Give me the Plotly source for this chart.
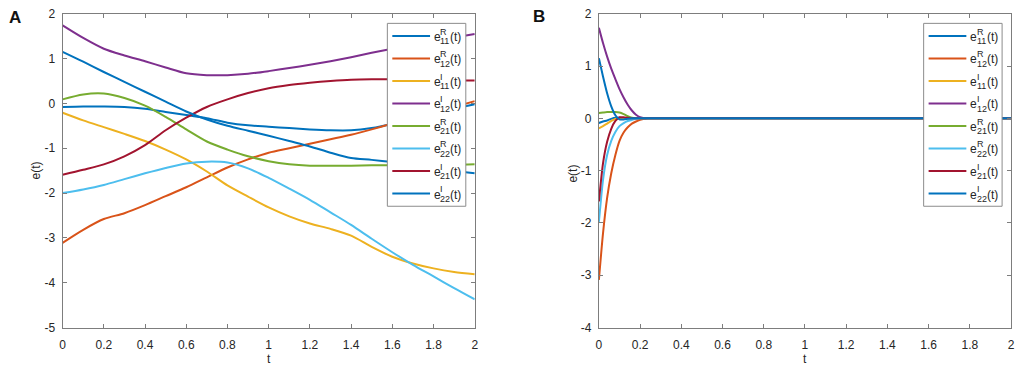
import plotly.graph_objects as go

W, H = 1021, 374

# ---------------- data: panel A ----------------
t_a = [0.0, 0.1, 0.2, 0.3, 0.4, 0.5, 0.6, 0.7, 0.8, 0.9, 1.0,
       1.1, 1.2, 1.3, 1.4, 1.5, 1.6, 1.7, 1.8, 1.9, 2.0]
a_e11R = [-0.08, -0.07, -0.07, -0.08, -0.12, -0.19, -0.26, -0.33, -0.43, -0.49, -0.52,
          -0.55, -0.58, -0.60, -0.60, -0.55, -0.46, -0.35, -0.24, -0.12, -0.02]
a_e12R = [-3.11, -2.82, -2.58, -2.45, -2.27, -2.07, -1.87, -1.65, -1.43, -1.25, -1.10,
          -1.00, -0.90, -0.80, -0.70, -0.58, -0.45, -0.33, -0.21, -0.08, 0.05]
a_e11I = [-0.21, -0.38, -0.53, -0.68, -0.84, -1.03, -1.25, -1.52, -1.83, -2.08, -2.32,
          -2.52, -2.68, -2.80, -2.95, -3.20, -3.42, -3.57, -3.68, -3.76, -3.81]
a_e12I = [1.74, 1.46, 1.22, 1.07, 0.94, 0.80, 0.67, 0.63, 0.63, 0.66, 0.72,
          0.79, 0.86, 0.94, 1.03, 1.13, 1.22, 1.30, 1.39, 1.47, 1.55]
a_e21R = [0.09, 0.20, 0.22, 0.12, -0.05, -0.30, -0.58, -0.85, -1.03, -1.18, -1.29,
          -1.36, -1.39, -1.39, -1.39, -1.38, -1.38, -1.38, -1.37, -1.37, -1.36]
a_e22R = [-2.00, -1.92, -1.82, -1.69, -1.56, -1.44, -1.34, -1.30, -1.32, -1.45, -1.66,
          -1.90, -2.15, -2.43, -2.71, -3.02, -3.32, -3.60, -3.86, -4.12, -4.37]
a_e21I = [-1.59, -1.48, -1.36, -1.18, -0.93, -0.60, -0.32, -0.08, 0.09, 0.23, 0.34,
          0.41, 0.46, 0.50, 0.53, 0.54, 0.54, 0.53, 0.52, 0.51, 0.51]
a_e22I = [1.15, 0.93, 0.70, 0.48, 0.26, 0.04, -0.18, -0.36, -0.50, -0.61, -0.72,
          -0.84, -0.96, -1.10, -1.22, -1.26, -1.31, -1.37, -1.43, -1.50, -1.56]

# ---------------- data: panel B ----------------
t_b = [0.0, 0.02, 0.04, 0.06, 0.08, 0.10, 0.12, 0.14, 0.16, 0.18, 0.20, 0.22, 0.24, 2.0]
b_e11R = [-0.09, -0.06, -0.04, -0.01, 0.01, 0.01, 0.0, 0.0, 0.0, 0.0, 0.0, 0.0, 0.0, 0.0]
b_e12R = [-3.09, -2.20, -1.52, -1.05, -0.70, -0.43, -0.27, -0.17, -0.10, -0.06, -0.03, -0.01, 0.0, 0.0]
b_e11I = [-0.19, -0.15, -0.10, -0.05, -0.01, 0.0, 0.0, 0.0, 0.0, 0.0, 0.0, 0.0, 0.0, 0.0]
b_e12I = [1.73, 1.44, 1.18, 0.95, 0.75, 0.56, 0.40, 0.26, 0.15, 0.07, 0.02, 0.0, 0.0, 0.0]
b_e21R = [0.10, 0.11, 0.12, 0.12, 0.12, 0.11, 0.08, 0.04, 0.01, 0.0, 0.0, 0.0, 0.0, 0.0]
b_e22R = [-1.98, -1.18, -0.70, -0.43, -0.26, -0.15, -0.09, -0.05, -0.03, -0.01, 0.0, 0.0, 0.0, 0.0]
b_e21I = [-1.59, -0.86, -0.45, -0.20, -0.05, 0.02, 0.02, 0.01, 0.0, 0.0, 0.0, 0.0, 0.0, 0.0]
b_e22I = [1.15, 0.80, 0.48, 0.23, 0.06, -0.02, -0.02, -0.01, 0.0, 0.0, 0.0, 0.0, 0.0, 0.0]

series_a = [a_e11R, a_e12R, a_e11I, a_e12I, a_e21R, a_e22R, a_e21I, a_e22I]
series_b = [b_e11R, b_e12R, b_e11I, b_e12I, b_e21R, b_e22R, b_e21I, b_e22I]

sup_labels = ["R", "R", "I", "I", "R", "R", "I", "I"]
sub_labels = ["11", "12", "11", "12", "21", "22", "21", "22"]
colors = ["#0072BD", "#D95319", "#EDB120", "#7E2F8E", "#77AC30", "#4DBEEE", "#A2142F", "#0072BD"]

x_tickvals = [0, 0.2, 0.4, 0.6, 0.8, 1.0, 1.2, 1.4, 1.6, 1.8, 2.0]
x_ticktext = ["0", "0.2", "0.4", "0.6", "0.8", "1", "1.2", "1.4", "1.6", "1.8", "2"]
ya_tickvals = [-5, -4, -3, -2, -1, 0, 1, 2]
ya_ticktext = ["-5", "-4", "-3", "-2", "-1", "0", "1", "2"]
yb_tickvals = [-4, -3, -2, -1, 0, 1, 2]
yb_ticktext = ["-4", "-3", "-2", "-1", "0", "1", "2"]

FONT = "Liberation Sans, Arial, sans-serif"
AXC = "#7d7d7d"
TXT = "#262626"

fig = go.Figure()
for i in range(8):
    name = f"e{sub_labels[i]}{sup_labels[i]}"
    fig.add_trace(go.Scatter(x=t_a, y=series_a[i], mode="lines", name=name,
                             line=dict(color=colors[i], width=2, shape="spline", smoothing=0.8),
                             showlegend=False, xaxis="x", yaxis="y", hoverinfo="skip"))
for i in range(8):
    name = f"e{sub_labels[i]}{sup_labels[i]}"
    fig.add_trace(go.Scatter(x=t_b, y=series_b[i], mode="lines", name=name,
                             line=dict(color=colors[i], width=2, shape="spline", smoothing=0.6),
                             showlegend=False, xaxis="x2", yaxis="y2", hoverinfo="skip"))

def px(x):
    return x / W

def py(y):
    return 1 - y / H

ydom = [py(333), py(7)]
axis_common = dict(showgrid=False, zeroline=False, showline=True, mirror="ticks",
                   ticks="inside", ticklen=4, linecolor=AXC, tickcolor=AXC, linewidth=1,
                   tickfont=dict(family=FONT, size=12, color=TXT))

fig.update_layout(
    autosize=True, margin=dict(l=0, r=0, t=0, b=0, pad=0),
    paper_bgcolor="white", plot_bgcolor="white",
    font=dict(family=FONT, color=TXT),
    xaxis=dict(domain=[px(60), px(475)], range=[0, 2], tickvals=x_tickvals, ticktext=x_ticktext,
               anchor="y", ticklabelstandoff=6, **axis_common),
    yaxis=dict(domain=ydom, range=[-5, 2], tickvals=ya_tickvals, ticktext=ya_ticktext,
               anchor="x", ticklabelstandoff=4, **axis_common),
    xaxis2=dict(domain=[px(600), px(1015)], range=[0, 2], tickvals=x_tickvals, ticktext=x_ticktext,
                anchor="y2", ticklabelstandoff=6, **axis_common),
    yaxis2=dict(domain=ydom, range=[-4, 2], tickvals=yb_tickvals, ticktext=yb_ticktext,
                anchor="x2", ticklabelstandoff=4, **axis_common),
)

shapes = []
annotations = []

def ann(x, y, text, size, **kw):
    d = dict(x=px(x), y=py(y), xref="paper", yref="paper", text=text, showarrow=False,
             font=dict(family=FONT, size=size, color=kw.pop("color", TXT)),
             xanchor=kw.pop("xanchor", "left"), yanchor="middle", borderpad=0)
    d.update(kw)
    annotations.append(d)

row_y = [30, 53.4, 76.8, 100.2, 123.6, 147.0, 170.4, 193.8]
for bx in (387, 927):
    shapes.append(dict(type="rect", xref="paper", yref="paper",
                       x0=px(bx), x1=px(bx + 79), y0=py(207), y1=py(17),
                       line=dict(color="#8c8c8c", width=1), fillcolor="white", layer="above"))
    for i in range(8):
        yc = row_y[i]
        shapes.append(dict(type="line", xref="paper", yref="paper",
                           x0=px(bx + 5), x1=px(bx + 43), y0=py(yc), y1=py(yc),
                           line=dict(color=colors[i], width=2), layer="above"))
        ann(bx + 46, yc + 1, "e", 12)
        ann(bx + 52.5, yc - 4.5, sup_labels[i], 9)
        ann(bx + 52.5, yc + 5.5, sub_labels[i], 9)
        ann(bx + 62.5, yc + 1, "(t)", 12)

# axis titles and panel labels
ann(33, 170, "e(t)", 12, xanchor="center", textangle=-90)
ann(573, 173, "e(t)", 12, xanchor="center", textangle=-90)
ann(267.5, 366, "t", 12, xanchor="center")
ann(807.5, 366, "t", 12, xanchor="center")
ann(12.5, 11, "<b>A</b>", 17, xanchor="center", color="#111111")
ann(540, 10, "<b>B</b>", 17, xanchor="center", color="#111111")

fig.update_layout(shapes=shapes, annotations=annotations)

page_fix = ("document.documentElement.style.margin='0';"
            "document.documentElement.style.overflow='hidden';"
            "document.body.style.margin='0';"
            "document.body.style.padding='0';"
            "document.body.style.overflow='hidden';")
fig.write_html("out.html", post_script=page_fix,
               default_width="100vw", default_height="100vh",
               config={"displayModeBar": False, "responsive": True})
